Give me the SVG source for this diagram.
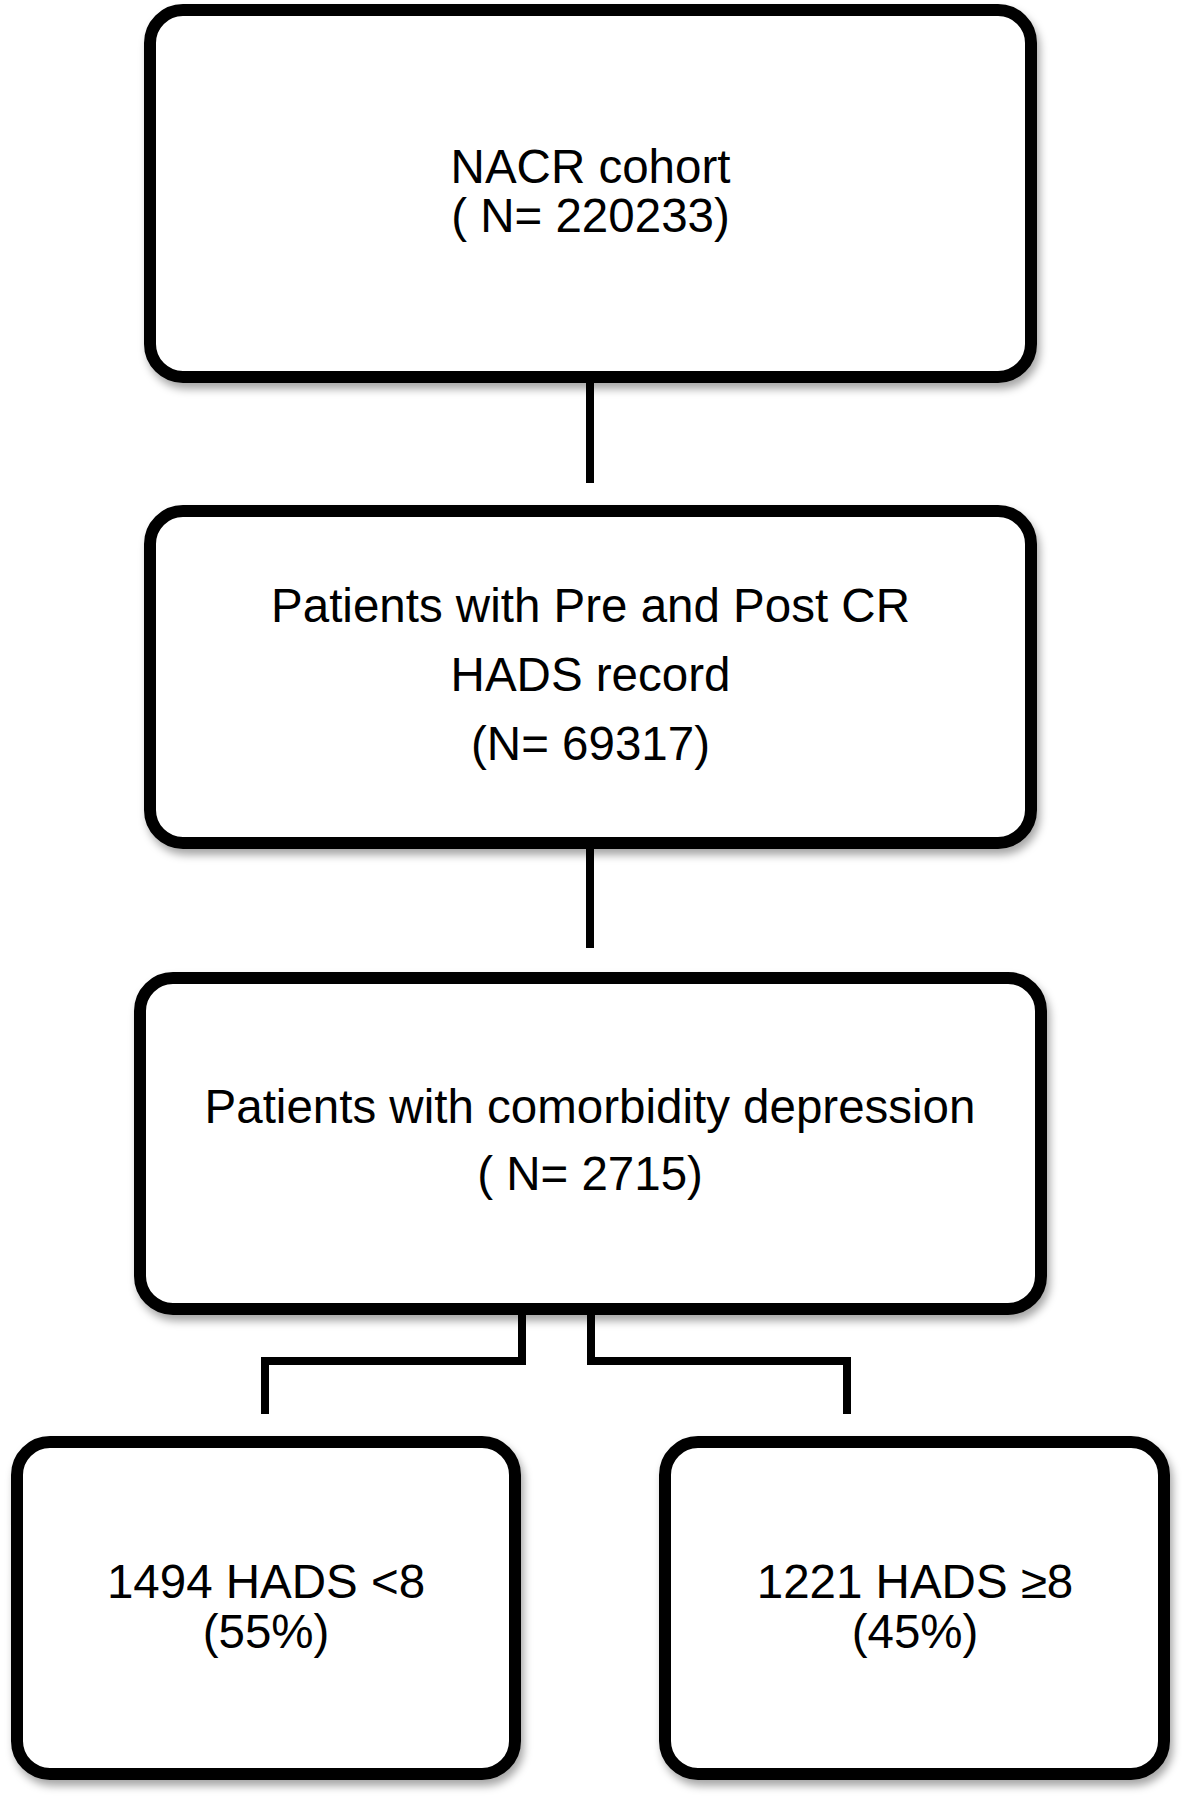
<svg xmlns="http://www.w3.org/2000/svg" width="1182" height="1798" viewBox="0 0 1182 1798">
<style>
.box{fill:#fff;stroke:#000;stroke-width:12;filter:url(#sh)}
.conn{fill:none;stroke:#000;stroke-width:8;stroke-linecap:butt;stroke-linejoin:miter}
text{font-family:"Liberation Sans",Arial,sans-serif;font-size:47.5px;fill:#000;text-anchor:middle}
</style>
<defs>
<filter id="sh" x="-10%" y="-10%" width="120%" height="125%">
<feDropShadow dx="3" dy="6" stdDeviation="4" flood-color="#000" flood-opacity="0.35"/>
</filter>
</defs>
<rect width="1182" height="1798" fill="#fff"/>
<g id="connectors">
<line class="conn" x1="590" y1="383" x2="590" y2="483"/>
<line class="conn" x1="590" y1="849" x2="590" y2="948"/>
<polyline class="conn" points="522,1315 522,1361 265,1361 265,1414"/>
<polyline class="conn" points="591,1315 591,1361 847,1361 847,1414"/>
</g>
<g id="n1">
<rect class="box" x="150" y="10" width="881" height="367" rx="33"/>
<text x="590.5" y="183">NACR cohort</text>
<text x="590.5" y="232">( N= 220233)</text>
</g>
<g id="n2">
<rect class="box" x="150" y="511" width="881" height="332" rx="33"/>
<text x="590.5" y="622">Patients with Pre and Post CR</text>
<text x="590.5" y="691">HADS record</text>
<text x="590.5" y="760">(N= 69317)</text>
</g>
<g id="n3">
<rect class="box" x="140" y="978" width="901" height="331" rx="33"/>
<text x="590" y="1123">Patients with comorbidity depression</text>
<text x="590" y="1190">( N= 2715)</text>
</g>
<g id="n4">
<rect class="box" x="17" y="1442" width="498" height="332" rx="33"/>
<text x="266" y="1598">1494 HADS &lt;8</text>
<text x="266" y="1648">(55%)</text>
</g>
<g id="n5">
<rect class="box" x="665" y="1442" width="499" height="332" rx="33"/>
<text x="915" y="1598">1221 HADS ≥8</text>
<text x="915" y="1648">(45%)</text>
</g>
</svg>
